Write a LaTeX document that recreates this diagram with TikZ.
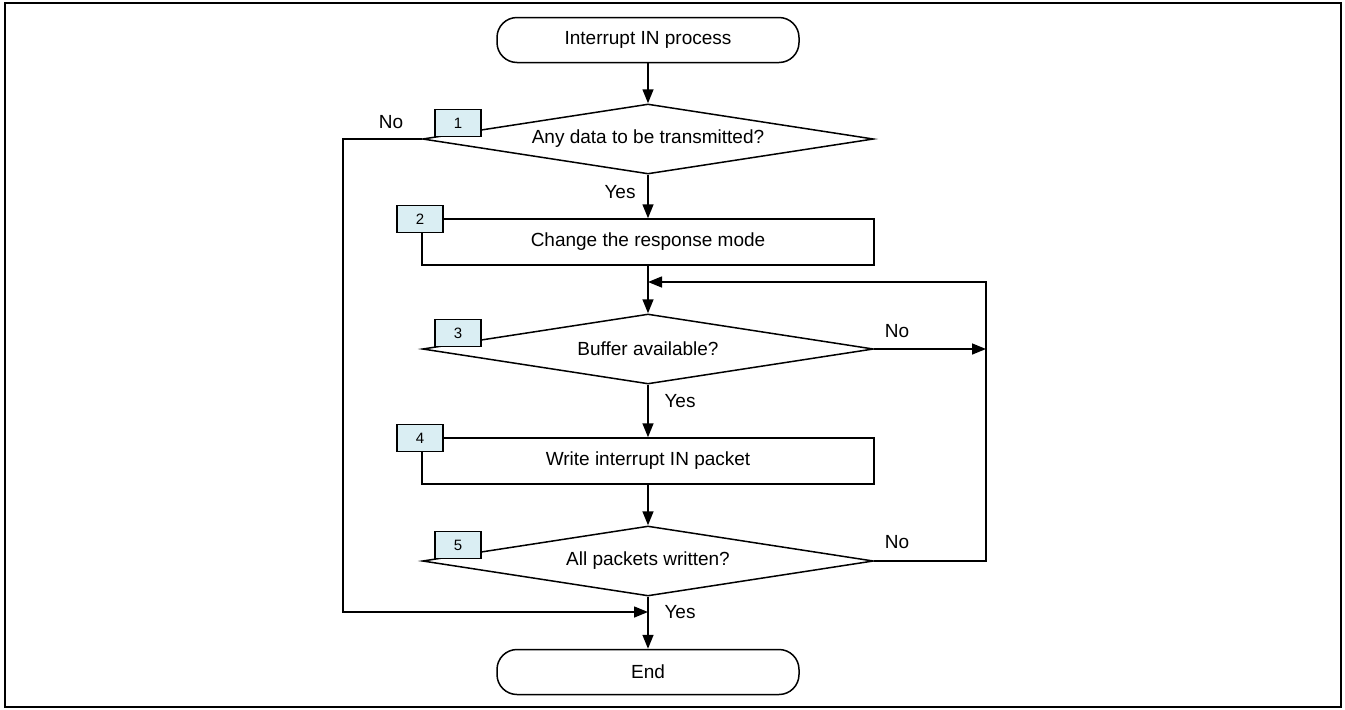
\documentclass[tikz,border=0pt]{standalone}
\usepackage{fontspec}
\setmainfont{Liberation Sans}
\usetikzlibrary{positioning, arrows.meta, shapes.geometric}
\definecolor{tagblue}{RGB}{218,238,243}

\begin{document}
\begin{tikzpicture}[x=1pt, y=-1pt, font=\fontsize{19}{22}\selectfont,
    >={Triangle[length=14pt, width=11pt]}, line width=1.5pt,
    term/.style={draw, rounded corners=20pt, minimum width=302pt, minimum height=45pt, inner sep=0pt},
    proc/.style={draw, minimum width=452pt, minimum height=46pt, inner sep=0pt},
    decide/.style={draw, diamond, aspect=6, minimum width=451pt, minimum height=70pt, inner sep=0pt},
    tag/.style={draw, fill=tagblue, minimum width=46pt, minimum height=27pt, inner sep=0pt,
                font=\fontsize{15}{18}\selectfont},
    lbl/.style={inner sep=0pt}]
  \useasboundingbox (0,0) rectangle (1345,710);
  \draw[line width=2.5pt] (5,3) rectangle (1341,707);

  \node[term] (start) at (648,40) {Interrupt IN process};
  \node[decide] (q1) at (648,139) {Any data to be transmitted?};
  \node[proc] (p2) at (648,242) {Change the response mode};
  \coordinate (join) at (648,282);
  \node[decide] (q3) at (648,349) {Buffer available?};
  \node[proc] (p4) at (648,461) {Write interrupt IN packet};
  \node[decide] (q5) at (648,561) {All packets written?};
  \node[term] (stop) at (648,672) {End};
  \coordinate (loopR) at (986,282);
  \coordinate (noL) at (343,139);
  \coordinate (endjoin) at (648,612);

  % step numbers
  \node[tag] (t1) at (458,123) {1};
  \node[tag] (t2) at (420,219) {2};
  \node[tag] (t3) at (458,333) {3};
  \node[tag] (t4) at (420,438) {4};
  \node[tag] (t5) at (458,545) {5};

  \draw[->] (start) -- (q1);
  \draw[->] (q1) -- (p2);
  \draw[->] (p2) -- (q3);
  \draw[->] (q3) -- (p4);
  \draw[->] (p4) -- (q5);
  \draw[->] (q5) -- (stop);
  \draw[->] (q3.east) -- (q3.east -| loopR);
  \draw[->] (q5.east) -| (loopR) -- (join);
  \draw[->] (q1.west) -- (noL) |- (endjoin);

  \node[lbl] (no1) at (391,122) {No};
  \node[lbl] (yes1) at (620,192) {Yes};
  \node[lbl] (no3) at (897,331) {No};
  \node[lbl] (yes3) at (680,401) {Yes};
  \node[lbl] (no5) at (897,542) {No};
  \node[lbl] (yes5) at (680,612) {Yes};
\end{tikzpicture}
\end{document}
